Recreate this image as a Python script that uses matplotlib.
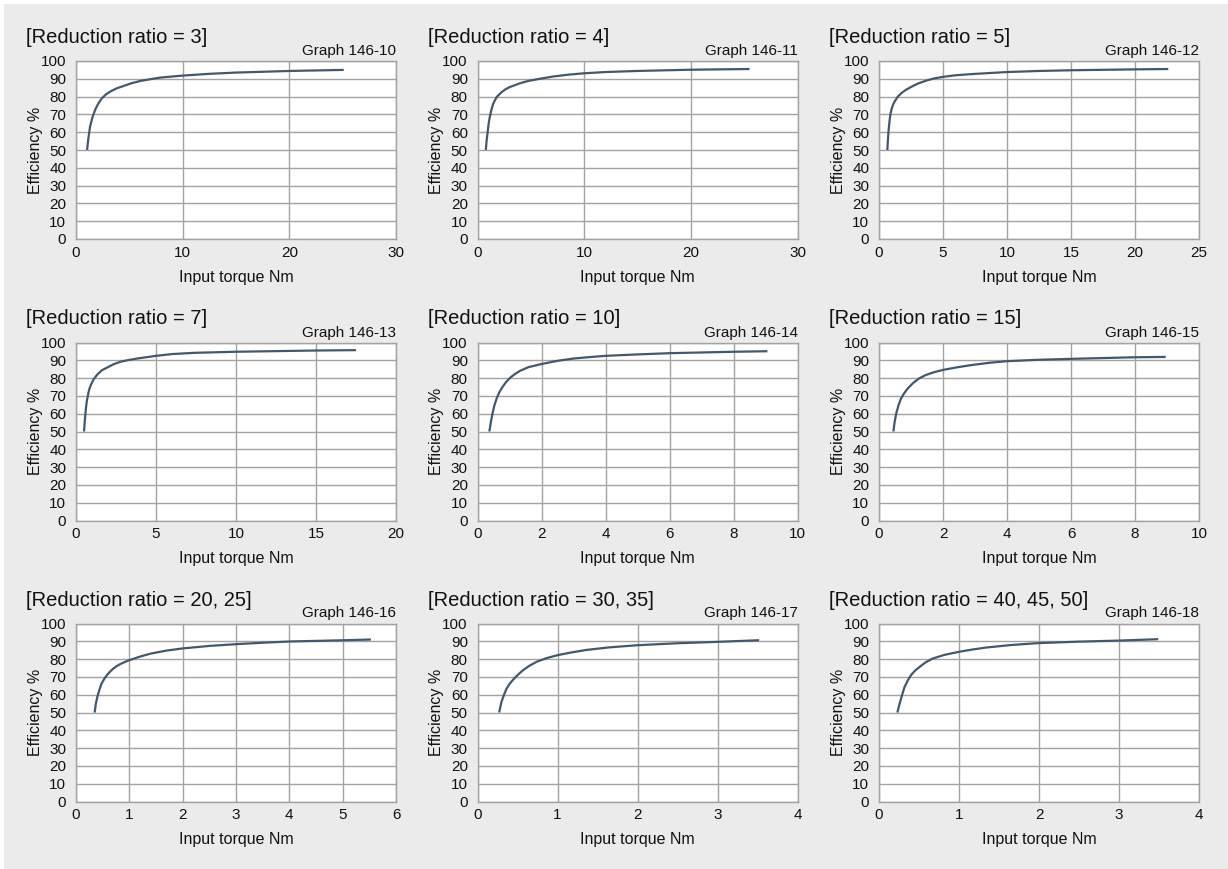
import numpy as np
import matplotlib
matplotlib.use("Agg")
from matplotlib import pyplot as plt
from matplotlib.patches import Rectangle

plt.rcParams["font.family"] = ["Liberation Sans", "DejaVu Sans"]

titles = ["[Reduction ratio = 3]", "[Reduction ratio = 4]", "[Reduction ratio = 5]",
          "[Reduction ratio = 7]", "[Reduction ratio = 10]", "[Reduction ratio = 15]",
          "[Reduction ratio = 20, 25]", "[Reduction ratio = 30, 35]", "[Reduction ratio = 40, 45, 50]"]
graph_ids = ["Graph 146-10", "Graph 146-11", "Graph 146-12",
             "Graph 146-13", "Graph 146-14", "Graph 146-15",
             "Graph 146-16", "Graph 146-17", "Graph 146-18"]
x_max = [30, 30, 25, 20, 10, 10, 6, 4, 4]
x_step = [10, 10, 5, 5, 2, 2, 1, 1, 1]

# input torque (Nm) / efficiency (%)
torque = [
    [1.04, 1.15, 1.32, 1.55, 1.79, 2.1, 2.42, 2.8, 3.2, 3.8, 4.47, 5.2, 6.04, 7, 7.92, 10, 12.5, 15, 20, 25.1],
    [0.78, 0.85, 0.95, 1.05, 1.16, 1.3, 1.47, 1.8, 2.26, 2.6, 3.0, 3.98, 4.7, 5.55, 7.1, 8.5, 10, 12, 14.95, 20, 25.5],
    [0.65, 0.7, 0.75, 0.82, 0.89, 1.0, 1.1, 1.22, 1.45, 1.74, 2.1, 2.66, 3.1, 3.7, 4.3, 5, 6, 7.34, 10, 12.5, 15, 20, 22.6],
    [0.5, 0.54, 0.58, 0.62, 0.67, 0.75, 0.82, 0.92, 1.1, 1.33, 1.6, 1.96, 2.35, 2.79, 3.3, 3.83, 5, 6, 7.4, 10, 15, 17.5],
    [0.37, 0.42, 0.47, 0.53, 0.6, 0.67, 0.75, 0.88, 1.02, 1.17, 1.33, 1.6, 2, 2.5, 3, 3.5, 4, 5, 6, 8.03, 9.06],
    [0.45, 0.49, 0.54, 0.61, 0.69, 0.79, 0.9, 1.07, 1.26, 1.46, 1.68, 2, 2.45, 2.92, 3.45, 3.99, 5, 5.98, 7.97, 8.96],
    [0.35, 0.37, 0.4, 0.44, 0.48, 0.53, 0.58, 0.64, 0.7, 0.76, 0.83, 0.91, 1, 1.2, 1.4, 1.7, 2, 2.5, 3.01, 3.5, 4.02, 5.03, 5.53],
    [0.27, 0.285, 0.3, 0.33, 0.36, 0.4, 0.45, 0.51, 0.57, 0.65, 0.74, 0.86, 1, 1.18, 1.37, 1.65, 2, 2.5, 3.01, 3.52],
    [0.23, 0.25, 0.27, 0.295, 0.32, 0.36, 0.4, 0.45, 0.51, 0.58, 0.67, 0.82, 1, 1.17, 1.34, 1.65, 2, 2.5, 3, 3.49],
]
efficiency = [
    [50, 56, 63.2, 68.5, 72.5, 76.2, 79, 81.2, 82.8, 84.6, 86, 87.5, 88.8, 89.8, 90.7, 91.8, 92.8, 93.5, 94.4, 95],
    [50, 55, 60, 65, 68.8, 72.5, 76, 79.8, 82.5, 84, 85.3, 87.5, 88.7, 89.7, 91.3, 92.3, 93.1, 93.8, 94.4, 95.1, 95.5],
    [50, 56, 61, 66, 70, 73.5, 75.5, 77.2, 79.8, 81.9, 83.8, 86, 87.5, 89, 90.2, 91.1, 92, 92.7, 93.8, 94.4, 94.8, 95.3, 95.5],
    [50, 55, 59, 63, 66.7, 70.5, 73.5, 76, 79.3, 82, 84.3, 86, 87.8, 89.2, 90.2, 91, 92.5, 93.5, 94.2, 94.8, 95.5, 95.7],
    [50, 55.5, 60.2, 64.8, 68.6, 71.6, 74.2, 77.5, 80.2, 82.3, 84.1, 86.2, 87.9, 89.7, 91, 91.8, 92.5, 93.3, 94, 94.8, 95.1],
    [50, 55.5, 60.2, 64.8, 68.6, 71.6, 74.2, 77.3, 79.9, 81.7, 83.1, 84.6, 86.1, 87.4, 88.6, 89.5, 90.3, 90.8, 91.7, 91.9],
    [50, 54.5, 58.8, 62.8, 66.3, 68.9, 71, 73, 74.7, 76, 77.2, 78.3, 79.4, 81.4, 83.1, 84.8, 86, 87.4, 88.4, 89.2, 89.9, 90.6, 91],
    [50, 53, 56, 59.8, 63.1, 66, 68.7, 71.4, 73.8, 76.3, 78.5, 80.5, 82.2, 83.8, 85.2, 86.6, 87.8, 88.9, 89.7, 90.6],
    [50, 53.6, 56.9, 60.8, 64.4, 68, 71, 73.5, 75.7, 78.1, 80.3, 82.4, 84.1, 85.4, 86.5, 87.9, 89, 89.8, 90.4, 91.2],
]

W, H = 1228, 869
fig = plt.figure(figsize=(W / 100, H / 100), dpi=100, facecolor="white")
fig.patches.append(Rectangle((4 / W, 0), 1, 1 - 4 / H, transform=fig.transFigure,
                             facecolor="#ebebeb", edgecolor="none", zorder=-10))

lefts = [76, 477.5, 879]
tops = [61, 342.5, 623.5]
aw, ah = 320, 178
grid_c = "#a3a3a3"

for i in range(9):
    r, c = divmod(i, 3)
    ax = fig.add_axes([lefts[c] / W, 1 - (tops[r] + ah) / H, aw / W, ah / H])
    ax.set_facecolor("white")
    ax.plot(torque[i], efficiency[i], color="#41596f", lw=1.6,
            solid_capstyle="butt", solid_joinstyle="round")
    ax.set_xlim(0, x_max[i])
    ax.set_ylim(0, 100)
    ax.set_xticks(np.arange(0, x_max[i] + 0.01, x_step[i]))
    ax.set_yticks(np.arange(0, 101, 10))
    ax.grid(True, color=grid_c, lw=1.0)
    ax.set_axisbelow(True)
    for s in ax.spines.values():
        s.set_color(grid_c)
        s.set_linewidth(1.0)
    ax.tick_params(length=0, labelsize=11, colors="#111111")
    ax.tick_params(axis="x", pad=5)
    ax.tick_params(axis="y", pad=7)
    ax.set_xlabel("Input torque Nm", fontsize=11.5, color="#111111")
    ax.set_ylabel("Efficiency %", fontsize=11.5, color="#111111")
    ax.xaxis.label.set_va("center")
    ax.yaxis.label.set_va("center")
    ax.xaxis.set_label_coords(0.5, -0.215)
    ax.yaxis.set_label_coords(-0.128, 0.5)
    ax.text(-50 / aw, 1 + 18 / ah, titles[i], transform=ax.transAxes,
            fontsize=14.5, ha="left", va="baseline", color="#111111")
    ax.text(1, 1 + 6 / ah, graph_ids[i], transform=ax.transAxes,
            fontsize=11, ha="right", va="baseline", color="#111111")

plt.savefig("out.png", dpi=100, facecolor=fig.get_facecolor())
